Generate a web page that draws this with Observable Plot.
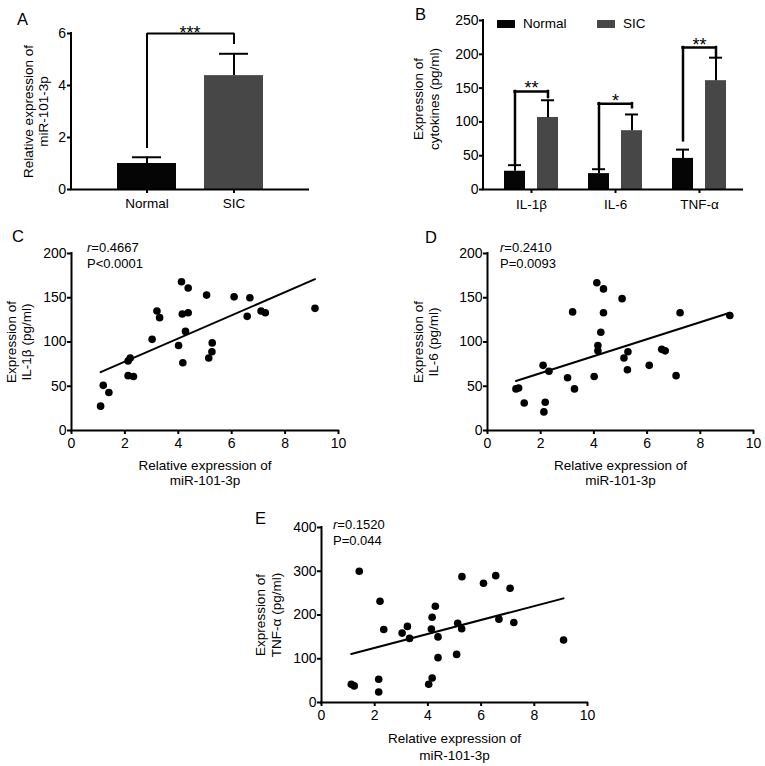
<!DOCTYPE html>
<html>
<head>
<meta charset="utf-8">
<script src="https://cdn.jsdelivr.net/npm/d3@7"></script>
<script src="https://cdn.jsdelivr.net/npm/@observablehq/plot@0.6"></script>
<style>
  body { margin: 0; background: #fff; }
  #fig { position: relative; width: 765px; height: 766px; background: #fff; font-family: "Liberation Sans", Arial, Helvetica, sans-serif; color: #000; }
  #fig svg { position: absolute; overflow: visible; }
  .lbl { position: absolute; font-size: 16.5px; line-height: 1; }
  .ann { position: absolute; font-size: 13px; line-height: 16px; }
  .leg { position: absolute; font-size: 13.5px; line-height: 1; }
  .sw { position: absolute; width: 18px; height: 8px; }
</style>
</head>
<body>
<div id="fig"></div>
<script>
// ---------- Data ----------
const colorNormal = "#050505";
const colorSIC = "#474747";

// Panel A
const groupsA = ["Normal", "SIC"];
const meanA = [1.0, 4.38];
const errA = [1.24, 5.22];
const starsA = "***";
const bracketA = [1.6, 6.0, 6.0, 5.6]; // left leg bottom, top, top, right leg bottom
const ticksA = [0, 2, 4, 6];

// Panel B
const cytokines = ["IL-1β", "IL-6", "TNF-α"];
const normalB = [27, 23.5, 46];
const normalErrB = [36, 30, 59];
const sicB = [106.5, 87, 161];
const sicErrB = [132, 111, 195];
const starsB = ["**", "*", "**"];
const bracketTopB = [145, 127, 210];
const bracketLeftB = [37, 30, 72];
const bracketRightB = [136, 121, 195.5];
const ticksB = [0, 50, 100, 150, 200, 250];

// Panel C (IL-1β vs miR-101-3p)
const xC = [1.09,1.19,1.40,2.12,2.2,2.12,2.32,3.02,3.2,3.3,4.01,4.12,4.15,4.17,4.27,4.37,4.37,5.06,5.14,5.26,5.27,6.09,6.58,6.68,7.1,7.26,9.12];
const yC = [27.5,51,43,78.5,82,62,61,103,135,127.5,96,168,131.7,76.6,112,161,133,153,82,89,99,151,129,150,135,133,138];
const fitCx = [1.09, 9.12];
const fitCy = [66, 171];

// Panel D (IL-6 vs miR-101-3p)
const xD = [1.07,1.17,1.38,2.09,2.12,2.17,2.31,3.01,3.2,3.27,4.01,4.11,4.15,4.15,4.26,4.36,4.36,5.06,5.13,5.28,5.26,6.08,6.55,6.68,7.09,7.24,9.11];
const yD = [47,48,31,73.6,21,32,67,59.6,134,47,61,167,96,90,111,160,133,149,82,89,68.7,73.6,91.7,90,62,133,130];
const fitDx = [1.07, 9.11];
const fitDy = [56, 133];

// Panel E (TNF-α vs miR-101-3p)
const xE = [1.12,1.23,1.42,2.15,2.15,2.2,2.34,3.03,3.23,3.31,4.03,4.13,4.16,4.16,4.28,4.38,4.38,5.08,5.12,5.27,5.28,6.09,6.55,6.67,7.09,7.23,9.1];
const yE = [41.7,38,300,53,24,231.5,167,158.6,174,146.5,41.7,168,195,56,220,150,102.5,110,181,168.5,287.7,272.5,290,190.5,261,183,143];
const fitEx = [1.12, 9.1];
const fitEy = [111, 238];

const ticksX = [0, 2, 4, 6, 8, 10];
const ticksCD = [0, 50, 100, 150, 200];
const ticksE = [0, 100, 200, 300, 400];

const xTitle = "Relative expression of\nmiR-101-3p";

// ---------- Helpers ----------
const fig = document.getElementById("fig");
const FONT = "'Liberation Sans', Arial, Helvetica, sans-serif";
const baseStyle = { fontFamily: FONT, fontSize: "14px", color: "#000", background: "transparent", overflow: "visible" };
const intFmt = d => String(d);

function place(el, left, top) {
  el.style.left = left + "px";
  el.style.top = top + "px";
  fig.appendChild(el);
  return el;
}
function yAxisLine(...args) {
  const dim = args.find(a => a && typeof a === "object" && "marginLeft" in a && "height" in a);
  const l = document.createElementNS("http://www.w3.org/2000/svg", "line");
  const x = dim.marginLeft;
  l.setAttribute("x1", x); l.setAttribute("x2", x);
  l.setAttribute("y1", dim.marginTop - 1);
  l.setAttribute("y2", dim.height - dim.marginBottom + 1);
  l.setAttribute("stroke", "#000");
  l.setAttribute("stroke-width", 2);
  return l;
}
function addDiv(cls, html, left, top, extra) {
  const d = document.createElement("div");
  d.className = cls;
  d.innerHTML = html;
  if (extra) Object.assign(d.style, extra);
  return place(d, left, top);
}

// ---------- Panel A ----------
const dataA = groupsA.map((g, i) => ({ group: g, mean: meanA[i], err: errA[i] }));
const bracketDataA = bracketA.map((y, i) => ({ group: i < 2 ? groupsA[0] : groupsA[1], y }));
const plotA = Plot.plot({
  width: 320, height: 225,
  marginLeft: 71, marginRight: 12, marginTop: 33, marginBottom: 36,
  style: baseStyle,
  x: { type: "band", domain: groupsA, paddingInner: 0.326, paddingOuter: 0.517, align: 0.5 },
  y: { domain: [0, 6] },
  color: { domain: groupsA, range: [colorNormal, colorSIC] },
  marks: [
    Plot.barY(dataA, { x: "group", y: "mean", fill: "group" }),
    Plot.ruleX(dataA, { x: "group", y1: "mean", y2: "err", stroke: "#000", strokeWidth: 2 }),
    Plot.tickY(dataA, { x: "group", y: "err", stroke: "#000", strokeWidth: 2, insetLeft: 15, insetRight: 15 }),
    Plot.line(bracketDataA, { x: "group", y: "y", stroke: "#000", strokeWidth: 2, strokeLinejoin: "miter", strokeLinecap: "butt" }),
    Plot.text([starsA], { text: d => d, y: () => bracketA[1], lineAnchor: "bottom", dy: 5, fontSize: 18 }),
    Plot.ruleY([0], { stroke: "#000", strokeWidth: 2, strokeLinecap: "square" }),
    yAxisLine,
    Plot.axisY({ ticks: ticksA, tickFormat: intFmt, tickSize: 4, tickPadding: 1.5, strokeWidth: 2, label: null, fontSize: 14 }),
    Plot.axisX({ tickSize: 4, tickPadding: 5, strokeWidth: 2, label: null, fontSize: 13.5 }),
    Plot.text(["Relative expression of\nmiR-101-3p"], { text: d => d, frameAnchor: "left", rotate: -90, dx: -35.5, textAnchor: "middle", lineAnchor: "middle", lineHeight: 1.11, fontSize: 13.5 })
  ]
});
place(plotA, 0, 0);

// ---------- Panel B ----------
const dataB = cytokines.map((c, i) => ({
  cyt: c, normal: normalB[i], normalErr: normalErrB[i], sic: sicB[i], sicErr: sicErrB[i],
  stars: starsB[i], top: bracketTopB[i], legL: bracketLeftB[i], legR: bracketRightB[i]
}));
const half = 16.5;
const plotB = Plot.plot({
  width: 385, height: 225,
  marginLeft: 103, marginRight: 23, marginTop: 20, marginBottom: 36,
  style: baseStyle,
  x: { type: "band", domain: cytokines, paddingInner: 0.361, paddingOuter: 0.213, align: 0.56 },
  y: { domain: [0, 250] },
  marks: [
    Plot.barY(dataB, { x: "cyt", y: "normal", fill: colorNormal, insetRight: 33 }),
    Plot.barY(dataB, { x: "cyt", y: "sic", fill: colorSIC, insetLeft: 33 }),
    Plot.ruleX(dataB, { x: "cyt", y1: "normal", y2: "normalErr", dx: -half, stroke: "#000", strokeWidth: 2 }),
    Plot.ruleX(dataB, { x: "cyt", y1: "sic", y2: "sicErr", dx: half, stroke: "#000", strokeWidth: 2 }),
    Plot.tickY(dataB, { x: "cyt", y: "normalErr", stroke: "#000", strokeWidth: 2, insetLeft: 4, insetRight: 37 }),
    Plot.tickY(dataB, { x: "cyt", y: "sicErr", stroke: "#000", strokeWidth: 2, insetLeft: 37, insetRight: 4 }),
    Plot.ruleX(dataB, { x: "cyt", y1: "legL", y2: "top", dx: -half, stroke: "#000", strokeWidth: 2.5, strokeLinecap: "square" }),
    Plot.ruleX(dataB, { x: "cyt", y1: "legR", y2: "top", dx: half, stroke: "#000", strokeWidth: 2.5, strokeLinecap: "square" }),
    Plot.tickY(dataB, { x: "cyt", y: "top", stroke: "#000", strokeWidth: 2.5, insetLeft: 10.5, insetRight: 10.5, strokeLinecap: "square" }),
    Plot.text(dataB, { x: "cyt", y: "top", text: "stars", lineAnchor: "bottom", dy: 3, fontSize: 18 }),
    Plot.ruleY([0], { stroke: "#000", strokeWidth: 2, strokeLinecap: "square" }),
    yAxisLine,
    Plot.axisY({ ticks: ticksB, tickFormat: intFmt, tickSize: 4, tickPadding: 1, strokeWidth: 2, label: null, fontSize: 14 }),
    Plot.axisX({ tickSize: 4, tickPadding: 6, strokeWidth: 2, label: null, fontSize: 13.5 }),
    Plot.text(["Expression of\ncytokines (pg/ml)"], { text: d => d, frameAnchor: "left", rotate: -90, dx: -58, dy: -6, textAnchor: "middle", lineAnchor: "middle", lineHeight: 1.18, fontSize: 13.5 })
  ]
});
place(plotB, 380, 0);

// ---------- Scatter panels ----------
function scatter(xs, ys, fx, fy, yDomain, yTicks, yTitle, opts) {
  const pts = xs.map((x, i) => ({ x, y: ys[i] }));
  const fit = fx.map((x, i) => ({ x, y: fy[i] }));
  return Plot.plot({
    width: opts.width, height: opts.height,
    marginLeft: opts.ml, marginRight: opts.mr, marginTop: opts.mt, marginBottom: opts.mb,
    style: baseStyle,
    x: { domain: [0, 10] },
    y: { domain: yDomain },
    marks: [
      Plot.ruleY([0], { stroke: "#000", strokeWidth: 2, strokeLinecap: "square" }),
      Plot.ruleX([0], { stroke: "#000", strokeWidth: 2, strokeLinecap: "square" }),
      Plot.axisY({ ticks: yTicks, tickFormat: intFmt, tickSize: 4, tickPadding: 1, strokeWidth: 2, label: null, fontSize: 14 }),
      Plot.axisX({ ticks: ticksX, tickFormat: intFmt, tickSize: 4, tickPadding: 4, strokeWidth: 2, label: null, fontSize: 14 }),
      Plot.line(fit, { x: "x", y: "y", stroke: "#000", strokeWidth: 2 }),
      Plot.dot(pts, { x: "x", y: "y", r: 3.8, fill: "#000" }),
      Plot.text([yTitle], { text: d => d, frameAnchor: "left", rotate: -90, dx: opts.ytdx, textAnchor: "middle", lineAnchor: "middle", lineHeight: 1.15, fontSize: 13.5 }),
      Plot.text([xTitle], { text: d => d, frameAnchor: "bottom", dy: opts.xtdy, textAnchor: "middle", lineAnchor: "middle", lineHeight: opts.xlh, fontSize: 13.5 })
    ]
  });
}

const plotC = scatter(xC, yC, fitCx, fitCy, [0, 200], ticksCD, "Expression of\nIL-1β (pg/ml)",
  { width: 360, height: 265, ml: 71, mr: 22, mt: 23, mb: 65, ytdx: -53, xtdy: 42.5, xlh: 1.12 });
place(plotC, 0, 230);

const plotD = scatter(xD, yD, fitDx, fitDy, [0, 200], ticksCD, "Expression of\nIL-6 (pg/ml)",
  { width: 385, height: 265, ml: 107, mr: 12, mt: 23, mb: 65, ytdx: -62, xtdy: 42.5, xlh: 1.12 });
place(plotD, 380, 230);

const plotE = scatter(xE, yE, fitEx, fitEy, [0, 400], ticksE, "Expression of\nTNF-α (pg/ml)",
  { width: 370, height: 266, ml: 91, mr: 13, mt: 27, mb: 64, ytdx: -53.5, xtdy: 44, xlh: 1.26 });
place(plotE, 230, 500);

// ---------- Panel letters ----------
addDiv("lbl", "A", 17, 11);
addDiv("lbl", "B", 415, 6);
addDiv("lbl", "C", 12, 228);
addDiv("lbl", "D", 425, 229);
addDiv("lbl", "E", 255, 510);

// ---------- Legend B ----------
place(Object.assign(document.createElement("div"), { className: "sw" }), 497, 20).style.background = colorNormal;
addDiv("leg", "Normal", 523, 17);
place(Object.assign(document.createElement("div"), { className: "sw" }), 597, 20).style.background = colorSIC;
addDiv("leg", "SIC", 623, 17);

// ---------- Correlation annotations ----------
addDiv("ann", "<i>r</i>=0.4667<br>P&lt;0.0001", 87, 240);
addDiv("ann", "<i>r</i>=0.2410<br>P=0.0093", 500, 240);
addDiv("ann", "<i>r</i>=0.1520<br>P=0.044", 333, 517);
</script>
</body>
</html>
